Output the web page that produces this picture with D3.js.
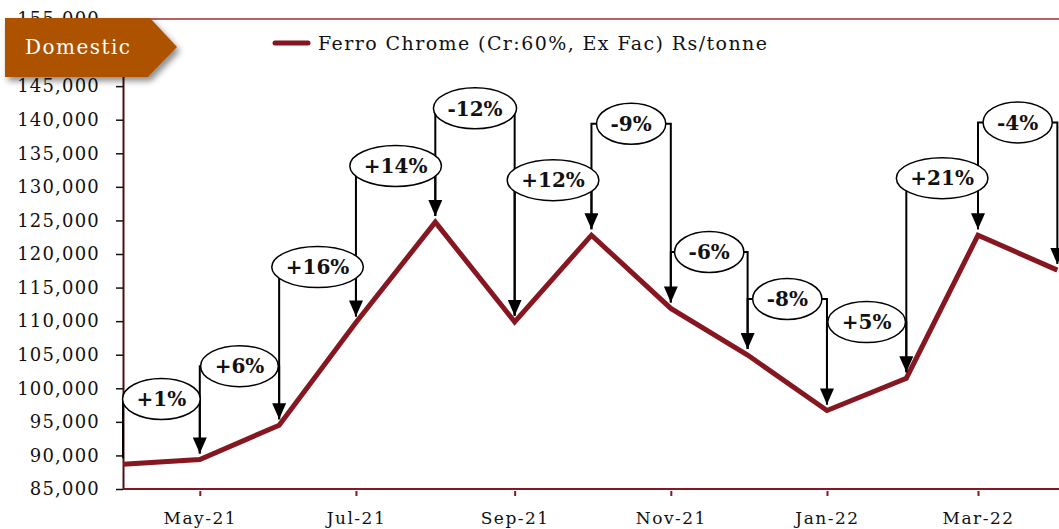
<!DOCTYPE html>
<html>
<head>
<meta charset="utf-8">
<script src="https://cdn.jsdelivr.net/npm/d3@7"></script>
<style>
  body { margin: 0; background: #fff; }
  svg { display: block; font-family: "DejaVu Serif", "Liberation Serif", serif; }
</style>
</head>
<body>
<div id="chart"></div>
<script>
// monthly ferro chrome price, Rs/tonne
const months = ["Apr-21", "May-21", "Jun-21", "Jul-21", "Aug-21", "Sep-21", "Oct-21",
  "Nov-21", "Dec-21", "Jan-22", "Feb-22", "Mar-22", "Apr-22"];
const price = [88700, 89400, 94500, 109800, 124750, 109900, 122800,
  111900, 104950, 96700, 101500, 122800, 117600];
// month-on-month change callouts and the level (Rs/tonne) each one sits at
const changeLabels = ["+1%", "+6%", "+16%", "+14%", "-12%", "+12%", "-9%", "-6%", "-8%", "+5%", "+21%", "-4%"];
const labelLevels = [98400, 103300, 118050, 133100, 141700, 131000, 139400, 120300, 113300, 109860, 131300, 139600];
const yTicks = d3.range(85000, 155001, 5000);
const xTickMonths = ["May-21", "Jul-21", "Sep-21", "Nov-21", "Jan-22", "Mar-22"];

const W = 1059, H = 529;
const lineColor = "#861620";
const parseMonth = d3.timeParse("%b-%y");
const fmtMonth = d3.timeFormat("%b-%y");

const svg = d3.select("#chart").append("svg")
  .attr("width", W)
  .attr("height", H);

const defs = svg.append("defs");
defs.append("marker")
  .attr("id", "arrow")
  .attr("markerUnits", "userSpaceOnUse")
  .attr("viewBox", "0 0 14 16")
  .attr("refX", 7).attr("refY", 16)
  .attr("markerWidth", 14).attr("markerHeight", 16)
  .attr("orient", "0")
  .append("path")
  .attr("d", "M0,0 L14,0 L7,16 Z")
  .attr("fill", "#000");
defs.append("filter")
  .attr("id", "shadow")
  .attr("x", "-20%").attr("y", "-20%").attr("width", "150%").attr("height", "160%")
  .append("feDropShadow")
  .attr("dx", 3).attr("dy", 4).attr("stdDeviation", 3)
  .attr("flood-color", "#000").attr("flood-opacity", 0.45);

// date axis: months sit on the 1st, so spacing follows days per month
const x = d3.scaleTime()
  .domain([parseMonth("Apr-21"), parseMonth("Mar-22")])
  .range([123, 978]);
const y = d3.scaleLinear()
  .domain([85000, 155000])
  .range([489, 19]);

// top border of plot area
svg.append("line")
  .attr("x1", 123).attr("x2", W)
  .attr("y1", y(155000)).attr("y2", y(155000))
  .attr("stroke", "#a52a2a").attr("stroke-width", 1.5);

// y axis
const yAxis = svg.append("g")
  .attr("transform", "translate(123,0)")
  .call(d3.axisLeft(y).tickValues(yTicks).tickFormat(d3.format(",")).tickSize(7).tickSizeOuter(0));
yAxis.select(".domain").attr("stroke", "#4a1212").attr("stroke-width", 2);
yAxis.selectAll(".tick line").attr("stroke", "#111").attr("stroke-width", 1.5);
yAxis.selectAll(".tick text")
  .attr("x", -23)
  .attr("font-size", 18)
  .attr("letter-spacing", 1.2)
  .attr("font-family", "DejaVu Serif, serif")
  .attr("fill", "#111");

// x axis
const xAxis = svg.append("g")
  .attr("transform", "translate(0,489)")
  .call(d3.axisBottom(x).tickValues(xTickMonths.map(parseMonth)).tickFormat(fmtMonth).tickSize(7).tickSizeOuter(0));
xAxis.select(".domain").remove();
xAxis.selectAll(".tick line").attr("stroke", lineColor).attr("stroke-width", 2).attr("y1", 2);
xAxis.selectAll(".tick text")
  .attr("y", 29).attr("dy", "0.35em")
  .attr("font-size", 17)
  .attr("letter-spacing", 1.5)
  .attr("font-family", "DejaVu Serif, serif")
  .attr("fill", "#111");
svg.append("line")
  .attr("x1", 123).attr("x2", W)
  .attr("y1", 489).attr("y2", 489)
  .attr("stroke", lineColor).attr("stroke-width", 2);

// price line
const series = months.map((m, i) => ({ date: parseMonth(m), value: price[i] }));
svg.append("path")
  .datum(series)
  .attr("fill", "none")
  .attr("stroke", lineColor)
  .attr("stroke-width", 5)
  .attr("stroke-linejoin", "miter")
  .attr("d", d3.line().x(d => x(d.date)).y(d => y(d.value)));

// elbow callouts: up from one month, across, down with arrow to the next
const notes = changeLabels.map((label, i) => ({
  label,
  level: labelLevels[i],
  from: series[i],
  to: series[i + 1]
}));
const gap = 6;
const noteG = svg.append("g");
noteG.selectAll("path")
  .data(notes)
  .enter().append("path")
  .attr("fill", "none")
  .attr("stroke", "#000")
  .attr("stroke-width", 2)
  .attr("marker-end", "url(#arrow)")
  .attr("d", d => {
    const x0 = x(d.from.date), x1 = x(d.to.date);
    const yl = y(d.level);
    return `M ${x0} ${y(d.from.value) - gap} V ${yl} H ${x1} V ${y(d.to.value) - gap}`;
  });

const bubble = noteG.selectAll("g.bubble")
  .data(notes)
  .enter().append("g")
  .attr("class", "bubble")
  .attr("transform", d => `translate(${(x(d.from.date) + x(d.to.date)) / 2},${y(d.level)})`);
const ellipses = bubble.append("ellipse")
  .attr("fill", "#fff")
  .attr("stroke", "#000")
  .attr("stroke-width", 1.5)
  .attr("ry", 20.5);
const labels = bubble.append("text")
  .attr("text-anchor", "middle")
  .attr("dy", "0.36em")
  .attr("font-size", 20)
  .attr("font-weight", "bold")
  .attr("fill", "#111")
  .text(d => d.label);
labels.each(function (d) {
  d.w = this.getComputedTextLength();
});
ellipses.attr("rx", d => d.w / 2 + 14);

// legend
svg.append("line")
  .attr("x1", 275).attr("x2", 308)
  .attr("y1", 43).attr("y2", 43)
  .attr("stroke", lineColor).attr("stroke-width", 5)
  .attr("stroke-linecap", "round");
svg.append("text")
  .attr("x", 318).attr("y", 50)
  .attr("font-size", 19)
  .attr("fill", "#111")
  .attr("textLength", 449)
  .attr("lengthAdjust", "spacing")
  .text("Ferro Chrome (Cr:60%, Ex Fac) Rs/tonne");

// "Domestic" tag
const tag = svg.append("g").attr("filter", "url(#shadow)");
tag.append("path")
  .attr("d", "M5,18 H150 L177,47 L148,77 H5 Z")
  .attr("fill", "#ad5200");
svg.append("text")
  .attr("x", 25).attr("y", 54)
  .attr("font-size", 20)
  .attr("fill", "#fff")
  .attr("textLength", 105)
  .attr("lengthAdjust", "spacing")
  .text("Domestic");
</script>
</body>
</html>
